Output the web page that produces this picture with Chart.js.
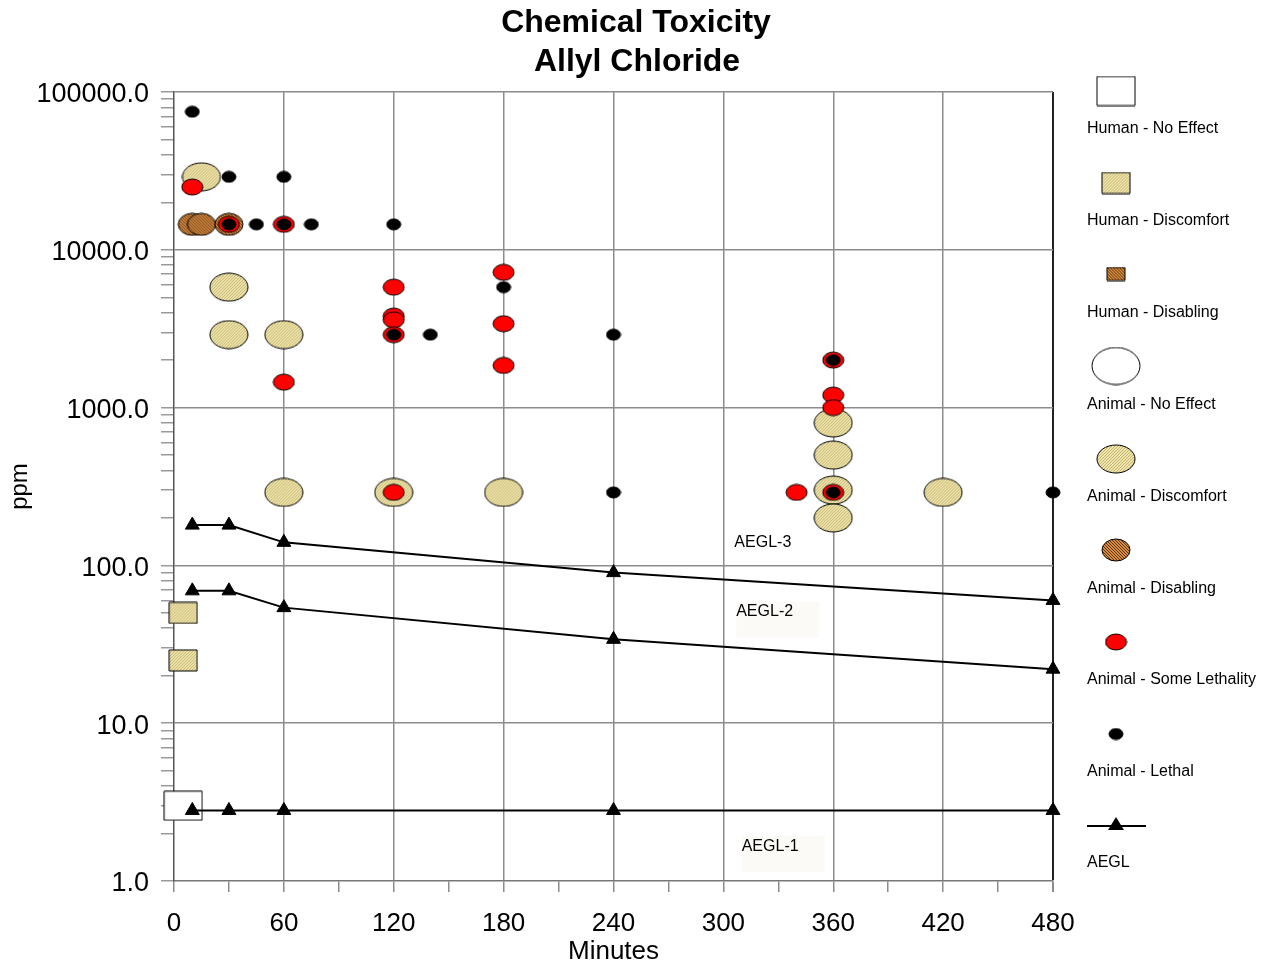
<!DOCTYPE html>
<html>
<head>
<meta charset="utf-8">
<script src="https://cdn.jsdelivr.net/npm/chart.js@4/dist/chart.umd.min.js"></script>
<style>
  html, body { margin: 0; padding: 0; background: #fff; }
  #wrap { width: 1267px; height: 968px; position: relative; }
</style>
</head>
<body>
<div id="wrap"><canvas id="chart"></canvas></div>
<script>
const FONT = '"Liberation Sans", Arial, Helvetica, sans-serif';

const titleLines = ['Chemical Toxicity', 'Allyl Chloride'];

// AEGL lines (minutes / ppm)
const aeglTimes = [10, 30, 60, 240, 480];
const aegl1 = [2.8, 2.8, 2.8, 2.8, 2.8];
const aegl2 = [69, 69, 54, 34, 22];
const aegl3 = [180, 180, 140, 90, 60];

// study points, [minutes, ppm]
const humanNoEffect = [[5, 3]];
const humanDiscomfort = [[5, 50], [5, 25]];
const humanDisabling = [];
const animalNoEffect = [];
const animalDiscomfort = [[15, 29000], [30, 5800], [30, 2900], [60, 2900], [60, 290], [120, 290],
  [180, 290], [360, 800], [360, 500], [360, 300], [360, 200], [420, 290]];
const animalDisabling = [[10, 14500], [15, 14500], [30, 14500]];
const animalSomeLethality = [[10, 25000], [30, 14500], [60, 14500], [60, 1450], [120, 5800],
  [120, 3800], [120, 3600], [120, 2900], [120, 290], [180, 7200], [180, 3400], [180, 1850],
  [340, 290], [360, 2000], [360, 1200], [360, 1000], [360, 290]];
const animalLethal = [[10, 75000], [30, 29000], [60, 29000], [30, 14500], [45, 14500], [60, 14500],
  [75, 14500], [120, 14500], [180, 5800], [120, 2900], [140, 2900], [240, 2900], [360, 2000],
  [240, 290], [360, 290], [480, 290]];

const xTicks = [0, 60, 120, 180, 240, 300, 360, 420, 480];
const yTicks = [1, 10, 100, 1000, 10000, 100000];

const toXY = arr => arr.map(p => ({ x: p[0], y: p[1] }));

function makeHatch(base, stripe, size, back) {
  const c = document.createElement('canvas');
  c.width = c.height = size;
  const g = c.getContext('2d');
  g.fillStyle = base;
  g.fillRect(0, 0, size, size);
  g.fillStyle = stripe;
  for (let i = 0; i < size; i++) g.fillRect(i, back ? i : size - 1 - i, 1, 1);
  return c;
}

function makeMarker(shape, w, h, fill) {
  const c = document.createElement('canvas');
  c.width = w + 2;
  c.height = h + 2;
  const g = c.getContext('2d');
  g.beginPath();
  if (shape === 'ellipse') g.ellipse(c.width / 2, c.height / 2, w / 2, h / 2, 0, 0, Math.PI * 2);
  else g.rect(1, 1, w, h);
  g.fillStyle = typeof fill === 'string' ? fill : g.createPattern(fill, 'repeat');
  g.fill();
  g.lineWidth = 1;
  g.strokeStyle = '#000';
  g.stroke();
  return c;
}

const tan = makeHatch('#efe5b0', '#c4b46a', 3, false);
const brown = makeHatch('#d98b3e', '#5a3415', 3, true);

const mk = {
  humanNoEffect: makeMarker('rect', 38, 29, '#fff'),
  humanDiscomfort: makeMarker('rect', 28, 21, tan),
  humanDisabling: makeMarker('rect', 18, 13, brown),
  animalNoEffect: makeMarker('ellipse', 48, 37, '#fff'),
  animalDiscomfort: makeMarker('ellipse', 38, 28, tan),
  animalDisabling: makeMarker('ellipse', 28, 22, brown),
  animalSomeLethality: makeMarker('ellipse', 21, 16, '#ff0000'),
  animalLethal: makeMarker('ellipse', 14, 11, '#000')
};

function pointSet(label, data, img) {
  return {
    label, data: toXY(data), pointStyle: img, pointRadius: img.width / 2,
    pointHoverRadius: img.width / 2, showLine: false, clip: false
  };
}

function aeglSet(label, values) {
  return {
    label, data: aeglTimes.map((t, i) => ({ x: t, y: values[i] })),
    showLine: true, borderColor: '#000', borderWidth: 2,
    pointStyle: 'triangle', pointRadius: 8, pointHoverRadius: 8,
    pointBackgroundColor: '#000', pointBorderColor: '#000', pointBorderWidth: 1, clip: false
  };
}

// first dataset ends up on top
const datasets = [
  pointSet('Animal - Lethal', animalLethal, mk.animalLethal),
  pointSet('Animal - Some Lethality', animalSomeLethality, mk.animalSomeLethality),
  pointSet('Animal - Disabling', animalDisabling, mk.animalDisabling),
  pointSet('Animal - Discomfort', animalDiscomfort, mk.animalDiscomfort),
  pointSet('Animal - No Effect', animalNoEffect, mk.animalNoEffect),
  aeglSet('AEGL-3', aegl3),
  aeglSet('AEGL-2', aegl2),
  aeglSet('AEGL-1', aegl1),
  pointSet('Human - Disabling', humanDisabling, mk.humanDisabling),
  pointSet('Human - Discomfort', humanDiscomfort, mk.humanDiscomfort),
  pointSet('Human - No Effect', humanNoEffect, mk.humanNoEffect)
];

const legendItems = [
  ['Human - No Effect', mk.humanNoEffect, 91, 128],
  ['Human - Discomfort', mk.humanDiscomfort, 183, 220],
  ['Human - Disabling', mk.humanDisabling, 274, 312],
  ['Animal - No Effect', mk.animalNoEffect, 366, 404],
  ['Animal - Discomfort', mk.animalDiscomfort, 459, 496],
  ['Animal - Disabling', mk.animalDisabling, 550, 588],
  ['Animal - Some Lethality', mk.animalSomeLethality, 642, 679],
  ['Animal - Lethal', mk.animalLethal, 734, 771]
];

// AEGL tags inside the plot, [text, minutes, ppm, boxed]
const aeglTags = [['AEGL-3', 306, 140, false], ['AEGL-2', 307, 51, true], ['AEGL-1', 310, 1.66, true]];

const sidePlugin = {
  id: 'side',
  afterDatasetsDraw(chart) {
    const ctx = chart.ctx;
    const xs = chart.scales.x, ys = chart.scales.y;
    ctx.save();

    // title, centred on the whole picture
    ctx.fillStyle = '#000';
    ctx.textAlign = 'center';
    ctx.textBaseline = 'middle';
    ctx.font = 'bold 32px ' + FONT;
    ctx.fillText(titleLines[0], 636, 23);
    ctx.fillText(titleLines[1], 637, 62);

    ctx.font = '16px ' + FONT;
    ctx.textAlign = 'left';
    aeglTags.forEach(([t, x, y, boxed]) => {
      const px = xs.getPixelForValue(x), py = ys.getPixelForValue(y);
      if (boxed) {
        ctx.fillStyle = '#fbfaf7';
        ctx.fillRect(px, py - 10, 83, 36);
      }
      ctx.fillStyle = '#000';
      ctx.fillText(t, px, py);
    });

    // legend on the right
    legendItems.forEach(([t, img, my, ty]) => {
      ctx.drawImage(img, 1116 - img.width / 2, my - img.height / 2);
      ctx.fillStyle = '#000';
      ctx.fillText(t, 1087, ty + 1);
    });
    ctx.strokeStyle = '#000';
    ctx.lineWidth = 2;
    ctx.beginPath();
    ctx.moveTo(1087, 826);
    ctx.lineTo(1146, 826);
    ctx.stroke();
    ctx.fillStyle = '#000';
    ctx.beginPath();
    ctx.moveTo(1116, 817);
    ctx.lineTo(1124, 830);
    ctx.lineTo(1108, 830);
    ctx.closePath();
    ctx.fill();
    ctx.fillText('AEGL', 1087, 863);
    ctx.restore();
  }
};

const isDecade = v => Math.abs(Math.log10(v) - Math.round(Math.log10(v))) < 1e-9;

new Chart(document.getElementById('chart'), {
  type: 'scatter',
  data: { datasets },
  options: {
    responsive: true,
    maintainAspectRatio: false,
    animation: false,
    layout: { padding: { left: 0, right: 214, top: 92, bottom: 0 } },
    plugins: {
      legend: { display: false },
      tooltip: { enabled: false },
      title: { display: false }
    },
    scales: {
      x: {
        type: 'linear',
        min: 0,
        max: 480,
        afterFit: s => { s.height = 87; },
        afterBuildTicks: s => {
          const t = [];
          for (let v = 0; v <= 480; v += 30) t.push({ value: v });
          s.ticks = t;
        },
        ticks: {
          autoSkip: false,
          maxRotation: 0,
          color: '#000',
          padding: 16,
          font: { family: FONT, size: 26 },
          callback: v => (xTicks.includes(v) ? String(v) : '')
        },
        grid: {
          color: c => {
            const v = c.tick ? c.tick.value : 0;
            if (v === 480) return '#222';
            return v % 60 === 0 && v > 0 ? '#8c8c8c' : 'rgba(0,0,0,0)';
          },
          lineWidth: c => (c.tick && c.tick.value === 480 ? 2 : 1.5),
          tickColor: '#8c8c8c',
          tickLength: 11
        },
        border: { color: '#777', width: 1.5 },
        title: {
          display: true,
          text: 'Minutes',
          color: '#000',
          font: { family: FONT, size: 26 },
          padding: { top: 0, bottom: 1 }
        }
      },
      y: {
        type: 'logarithmic',
        min: 1,
        max: 100000,
        afterFit: s => { s.width = 174; },
        afterBuildTicks: s => {
          const t = [];
          for (let e = 0; e < 5; e++) {
            for (let k = 1; k < 10; k++) t.push({ value: k * Math.pow(10, e) });
          }
          t.push({ value: 100000 });
          s.ticks = t;
        },
        ticks: {
          autoSkip: false,
          color: '#000',
          padding: 12,
          labelOffset: 3,
          font: { family: FONT, size: 27 },
          callback: v => (yTicks.includes(v) ? v.toFixed(1) : '')
        },
        grid: {
          color: c => (c.tick && isDecade(c.tick.value) && c.tick.value > 1 ? '#8c8c8c' : 'rgba(0,0,0,0)'),
          lineWidth: 1.5,
          tickColor: '#9a9a9a',
          tickLength: 13
        },
        border: { color: '#555', width: 1.5 },
        title: {
          display: true,
          text: 'ppm',
          color: '#000',
          font: { family: FONT, size: 24 },
          padding: { top: 6, bottom: 0 }
        }
      }
    }
  },
  plugins: [sidePlugin]
});
</script>
</body>
</html>
